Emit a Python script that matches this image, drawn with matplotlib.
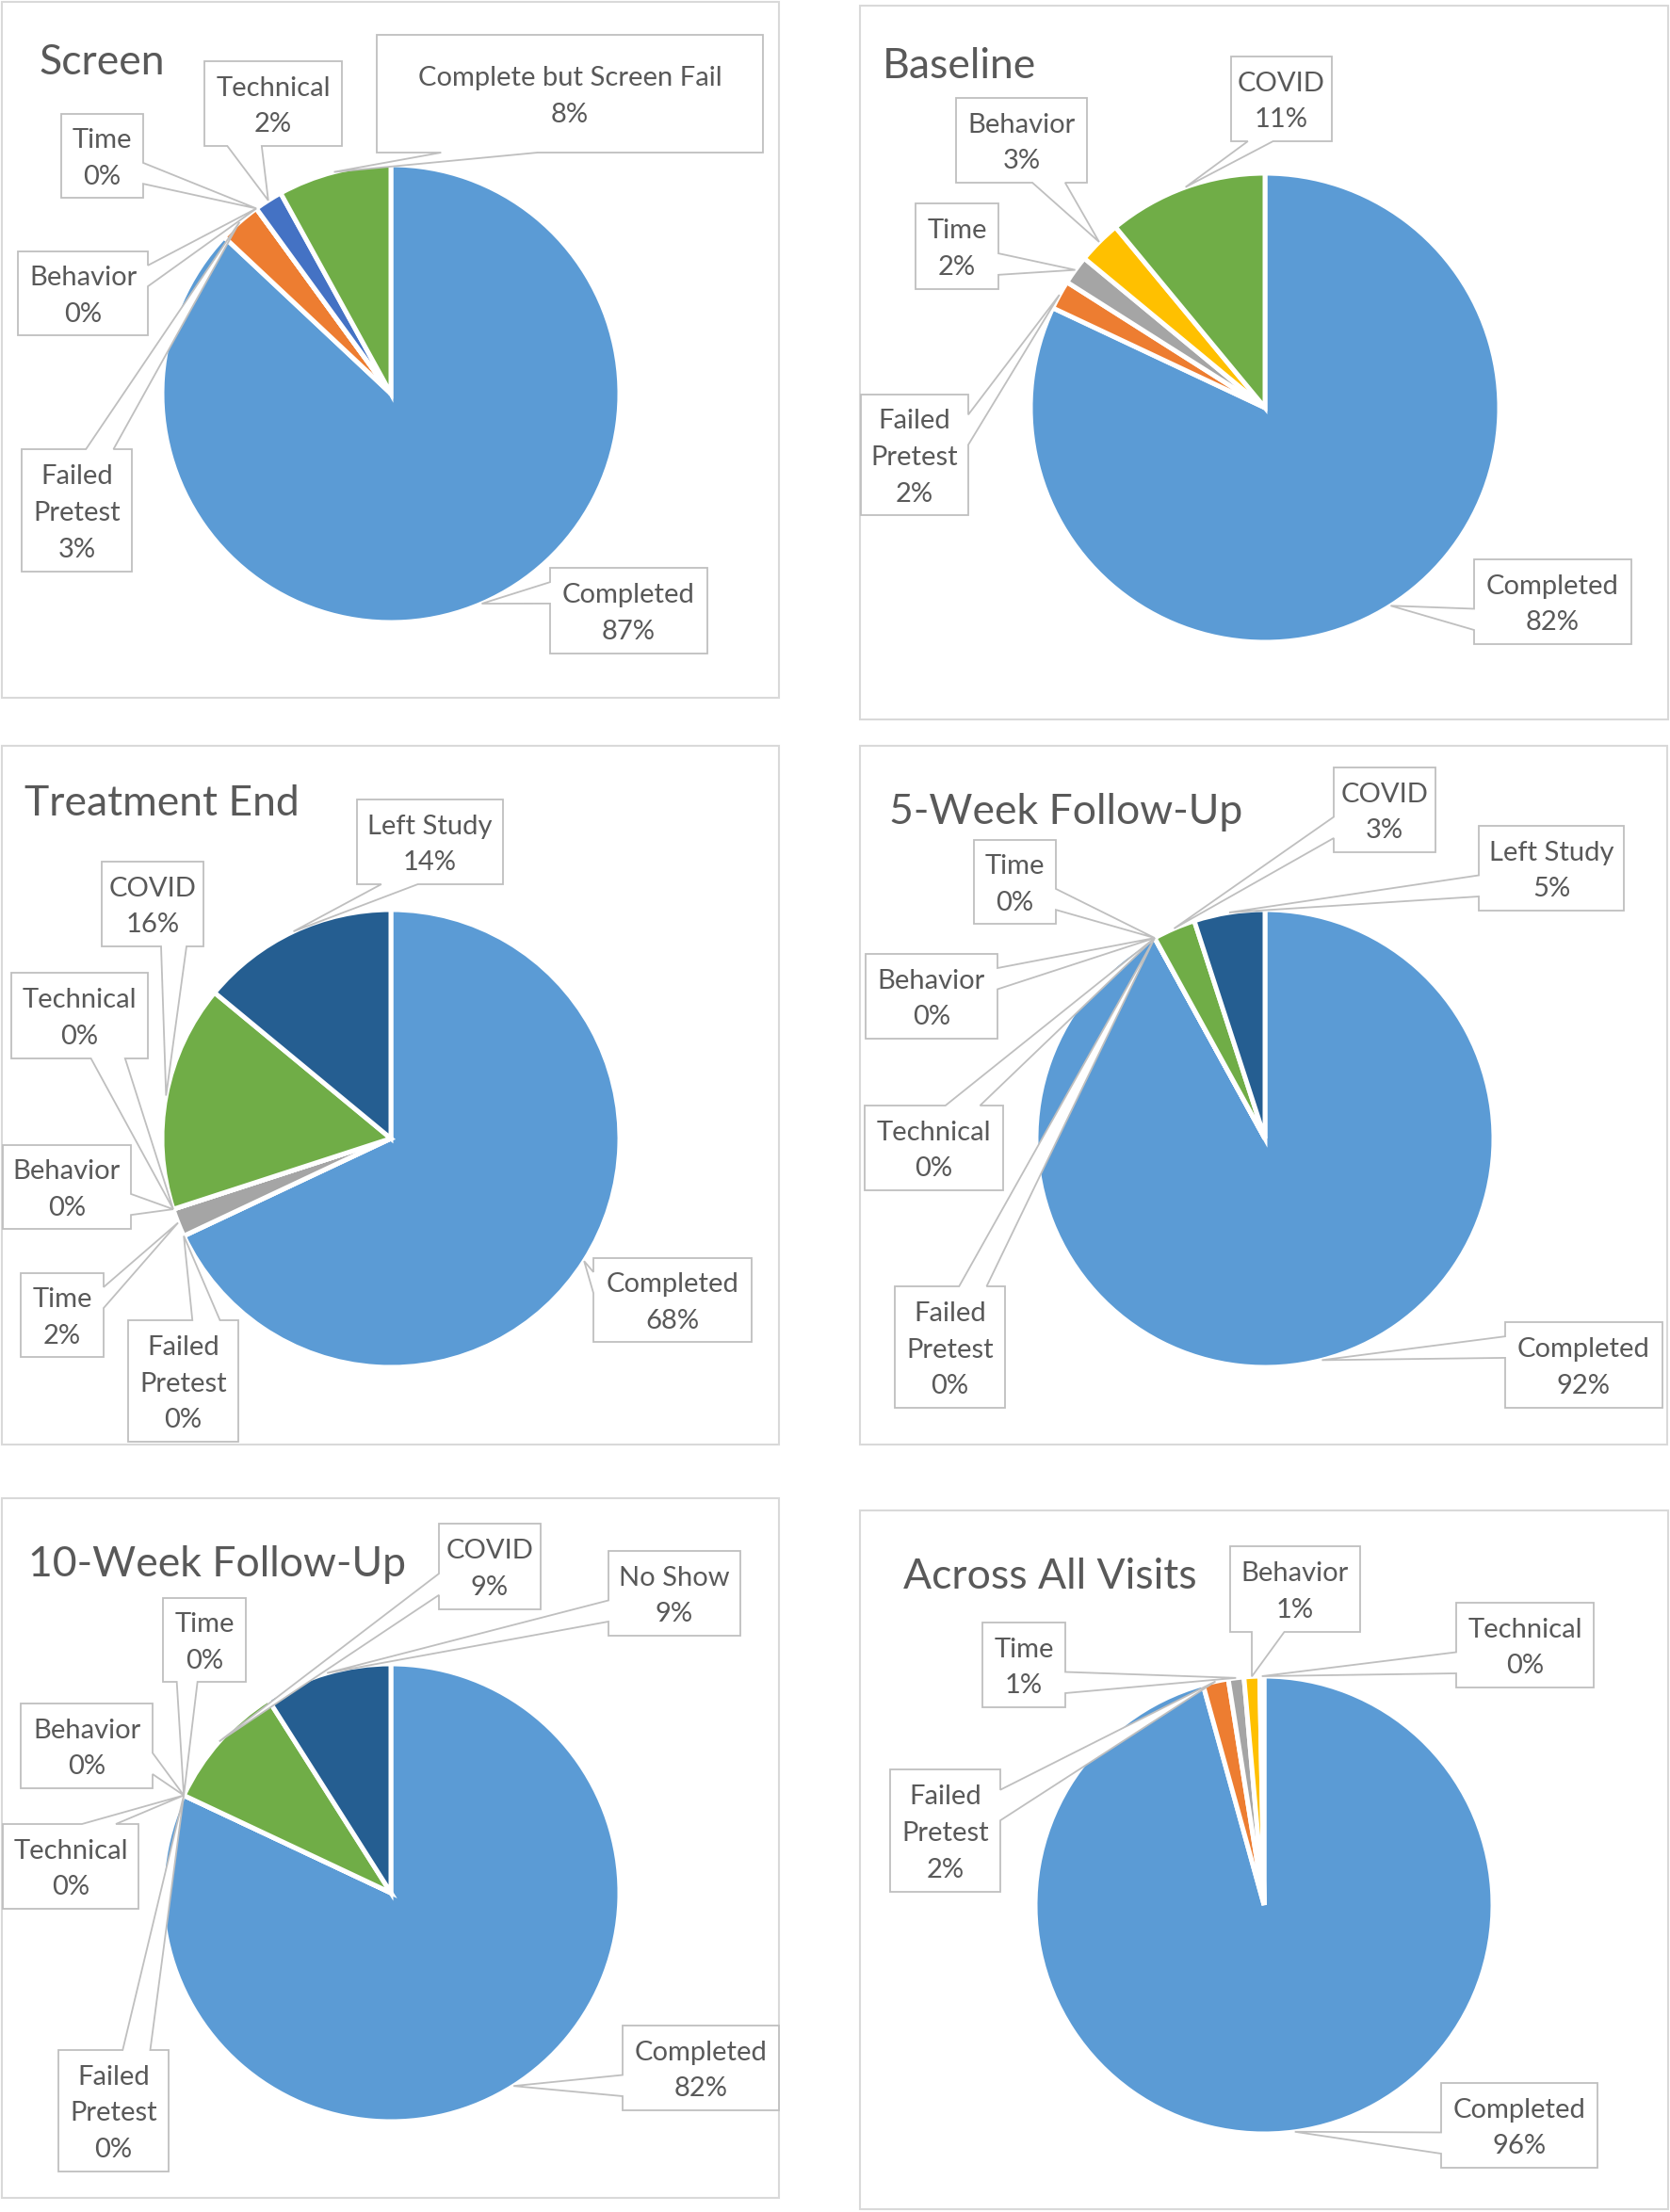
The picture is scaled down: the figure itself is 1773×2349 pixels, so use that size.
import numpy as np
import matplotlib.pyplot as plt
from matplotlib.patches import Polygon, Rectangle

W, H = 1773, 2349

plt.rcParams['font.family'] = ['Lato', 'DejaVu Sans']

BLUE = '#5B9BD5'
ORANGE = '#ED7D31'
GRAY = '#A5A5A5'
GOLD = '#FFC000'
BLUE2 = '#4472C4'
GREEN = '#70AD47'
NAVY = '#255E91'
TEXT = '#595959'
LINE = '#BFBFBF'

# ---- data (percent of visits, clockwise from 12 o'clock) ----
screen_cats = ['Completed', 'Failed\nPretest', 'Behavior', 'Time', 'Technical',
               'Complete but Screen Fail']
screen_vals = [87, 3, 0, 0, 2, 8]

baseline_cats = ['Completed', 'Failed\nPretest', 'Time', 'Behavior', 'COVID']
baseline_vals = [82, 2, 2, 3, 11]

treat_cats = ['Completed', 'Failed\nPretest', 'Time', 'Behavior', 'Technical',
              'COVID', 'Left Study']
treat_vals = [68, 0, 2, 0, 0, 16, 14]

wk5_cats = ['Completed', 'Failed\nPretest', 'Technical', 'Behavior', 'Time',
            'COVID', 'Left Study']
wk5_vals = [92, 0, 0, 0, 0, 3, 5]

wk10_cats = ['Completed', 'Failed\nPretest', 'Technical', 'Behavior', 'Time',
             'COVID', 'No Show']
wk10_vals = [82, 0, 0, 0, 0, 9, 9]

all_cats = ['Completed', 'Failed\nPretest', 'Time', 'Behavior', 'Technical']
all_vals = [95.7, 1.8, 1.1, 1.1, 0.3]

# ---- layout (pixels, y measured from the top) ----
panels = [
    dict(title='Screen', cats=screen_cats, vals=screen_vals,
         colors=[BLUE, ORANGE, GRAY, GOLD, BLUE2, GREEN],
         frame=(2, 827, 2, 741), title_xy=(41, 79),
         center=(415, 418), radius=243,
         boxes=[(584, 751, 603, 694), (23, 140, 477, 607), (19, 157, 267, 356),
                (65, 152, 121, 210), (217, 363, 65, 155), (400, 810, 37, 162)]),
    dict(title='Baseline', cats=baseline_cats, vals=baseline_vals,
         colors=[BLUE, ORANGE, GRAY, GOLD, GREEN],
         frame=(913, 1771, 6, 764), title_xy=(937, 83),
         center=(1343, 433), radius=249,
         boxes=[(1565, 1732, 594, 684), (914, 1028, 419, 547), (972, 1060, 216, 307),
                (1015, 1154, 104, 194), (1307, 1414, 60, 150)]),
    dict(title='Treatment End', cats=treat_cats, vals=treat_vals,
         colors=[BLUE, ORANGE, GRAY, GOLD, BLUE2, GREEN, NAVY],
         frame=(2, 827, 792, 1534), title_xy=(26, 866),
         center=(415, 1209), radius=243,
         boxes=[(630, 798, 1336, 1425), (136, 253, 1402, 1531), (22, 110, 1352, 1441),
                (3, 139, 1216, 1305), (12, 157, 1033, 1124), (108, 216, 915, 1005),
                (379, 534, 849, 939)]),
    dict(title='5-Week Follow-Up', cats=wk5_cats, vals=wk5_vals,
         colors=[BLUE, ORANGE, GRAY, GOLD, BLUE2, GREEN, NAVY],
         frame=(913, 1770, 792, 1534), title_xy=(944, 875),
         center=(1343, 1209), radius=243,
         boxes=[(1598, 1765, 1404, 1495), (950, 1067, 1366, 1495), (918, 1065, 1174, 1264),
                (919, 1059, 1013, 1103), (1034, 1121, 892, 981), (1416, 1524, 815, 905),
                (1570, 1724, 877, 967)]),
    dict(title='10-Week Follow-Up', cats=wk10_cats, vals=wk10_vals,
         colors=[BLUE, ORANGE, GRAY, GOLD, BLUE2, GREEN, NAVY],
         frame=(2, 827, 1591, 2334), title_xy=(30, 1674),
         center=(415, 2010), radius=243,
         boxes=[(661, 827, 2151, 2241), (62, 179, 2177, 2306), (3, 147, 1937, 2027),
                (22, 162, 1809, 1899), (173, 261, 1697, 1786), (466, 574, 1618, 1709),
                (646, 786, 1647, 1737)]),
    dict(title='Across All Visits', cats=all_cats, vals=all_vals,
         colors=[BLUE, ORANGE, GRAY, GOLD, BLUE2],
         frame=(913, 1771, 1604, 2346), title_xy=(959, 1687),
         center=(1342, 2023), radius=243,
         boxes=[(1530, 1696, 2212, 2302), (945, 1062, 1879, 2009), (1043, 1131, 1723, 1813),
                (1306, 1444, 1642, 1733), (1546, 1692, 1702, 1792)]),
]


def callout_points(box, tip):
    # rectangular callout with a wedge pointing at the slice
    x0, x1, y0, y1 = box
    tx, ty = tip
    w, h = x1 - x0, y1 - y0
    dx = tx - (x0 + x1) / 2
    dy = ty - (y0 + y1) / 2
    dz = abs(dy) - abs(dx * h / w)
    g1, g2 = (7, 10) if dx > 0 else (2, 5)
    xa1, xa2 = x0 + w * g1 / 12, x0 + w * g2 / 12
    g1, g2 = (7, 10) if dy > 0 else (2, 5)
    ya1, ya2 = y0 + h * g1 / 12, y0 + h * g2 / 12

    pts = [(x0, y0)]
    if dz > 0 and dy < 0:
        pts += [(xa1, y0), (tx, ty), (xa2, y0)]
    pts.append((x1, y0))
    if dz <= 0 and dx > 0:
        pts += [(x1, ya1), (tx, ty), (x1, ya2)]
    pts.append((x1, y1))
    if dz > 0 and dy > 0:
        pts += [(xa2, y1), (tx, ty), (xa1, y1)]
    pts.append((x0, y1))
    if dz <= 0 and dx < 0:
        pts += [(x0, ya2), (tx, ty), (x0, ya1)]
    return pts


fig = plt.figure(figsize=(W / 100, H / 100), dpi=100)
ax = fig.add_axes([0, 0, 1, 1])

for p in panels:
    fx0, fx1, fy0, fy1 = p['frame']
    ax.add_patch(Rectangle((fx0, fy0), fx1 - fx0, fy1 - fy0, fill=False,
                           edgecolor='#D9D9D9', linewidth=1.5, zorder=1))
    ax.text(p['title_xy'][0], p['title_xy'][1], p['title'], fontsize=32,
            color=TEXT, ha='left', va='baseline', zorder=5)

    vals = np.array(p['vals'], dtype=float)
    cx, cy = p['center']
    r = p['radius']
    # y axis is inverted, so counterclock in data space is clockwise on screen
    ax.pie(vals, colors=p['colors'], startangle=-90, counterclock=True,
           center=(cx, cy), radius=r, frame=True,
           wedgeprops=dict(edgecolor='white', linewidth=3.6, zorder=2))

    fracs = vals / vals.sum()
    mids = np.cumsum(fracs) - fracs / 2
    phi = 2 * np.pi * mids
    tips_x = cx + r * np.sin(phi)
    tips_y = cy - r * np.cos(phi)

    for cat, v, box, tx, ty in zip(p['cats'], vals, p['boxes'], tips_x, tips_y):
        pts = callout_points(box, (tx, ty))
        ax.add_patch(Polygon(pts, closed=True, facecolor='white',
                             edgecolor=LINE, linewidth=1.3, joinstyle='miter',
                             zorder=3))
        x0, x1, y0, y1 = box
        ax.text((x0 + x1) / 2, (y0 + y1) / 2 + 3, '%s\n%.0f%%' % (cat, v),
                fontsize=21, color=TEXT, ha='center', va='center',
                multialignment='center', linespacing=1.6, zorder=4)

ax.set_xlim(0, W)
ax.set_ylim(H, 0)
ax.set_aspect('equal')
ax.axis('off')

fig.savefig('out.png', dpi=100, facecolor='white')
